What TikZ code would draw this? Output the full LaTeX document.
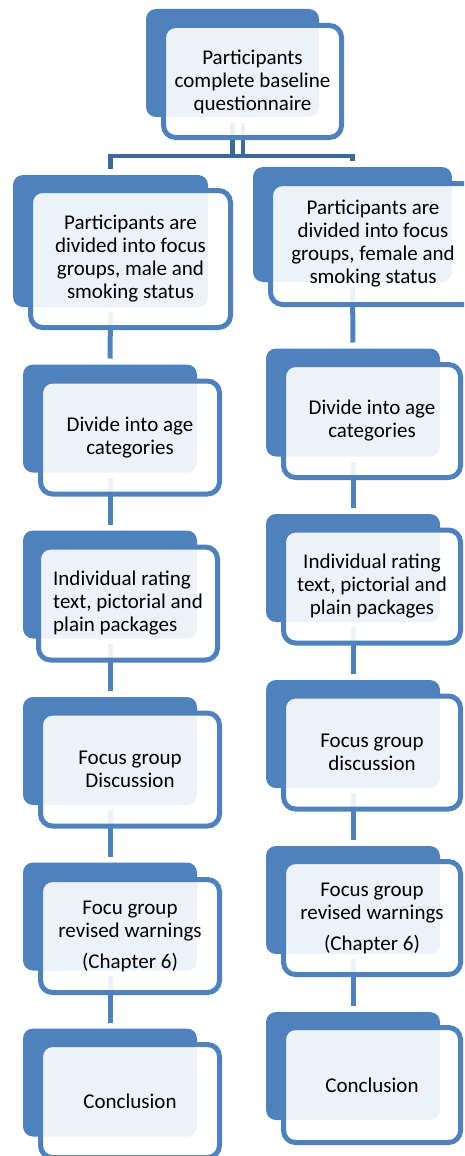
\documentclass[tikz,border=0pt]{standalone}
\usepackage{fontspec}
\setmainfont{Carlito}
\definecolor{boxblue}{HTML}{4F81BD}
\definecolor{trunkblue}{HTML}{3C6997}
\begin{document}
\begin{tikzpicture}[x=1pt,y=-1pt,
  backbox/.style={rectangle, rounded corners=10pt, fill=boxblue, draw=none,
    inner sep=0pt, outer sep=0pt, minimum width=174pt, minimum height=108pt},
  frontbox/.style={rectangle, rounded corners=12pt, draw=boxblue, line width=5pt,
    fill=white, fill opacity=0.9, text opacity=1, inner sep=0pt, outer sep=0pt,
    align=center, text=black, font=\fontsize{21}{23}\selectfont,
    minimum width=179pt, minimum height=113pt},
  link/.style={draw=boxblue, line width=5pt, shorten <=5pt, shorten >=6pt},
  trunk/.style={draw=trunkblue, line width=4.5pt, shorten <=6pt, shorten >=6pt}]

\useasboundingbox (0,0) rectangle (464,1156);
\clip (0,0) rectangle (464,1156);

% back plates
\node[backbox, minimum width=173pt] (tb) at (232.5,63) {};
\node[backbox, minimum width=195pt, minimum height=132pt] (l1b) at (110.5,241) {};
\node[backbox] (l2b) at (110,418.5) {};
\node[backbox] (l3b) at (110,584.5) {};
\node[backbox] (l4b) at (110,751) {};
\node[backbox] (l5b) at (110,916.5) {};
\node[backbox] (l6b) at (110,1082.5) {};
\node[backbox, minimum width=199pt, minimum height=115pt] (r1b) at (352.5,224.5) {};
\node[backbox] (r2b) at (353,402.5) {};
\node[backbox] (r3b) at (353,568) {};
\node[backbox] (r4b) at (353,734) {};
\node[backbox] (r5b) at (353,900) {};
\node[backbox] (r6b) at (353,1066) {};

% connectors
\coordinate (bar) at (0,156);
\draw[trunk] ([xshift=10.5pt]tb.south) -- ([xshift=10.5pt]tb.south |- bar) -| (l1b.north);
\draw[trunk] (tb.south) -- (tb.south |- bar) -| (r1b.north);
\draw[link] (l1b.south) -- (l2b.north);
\draw[link] (l2b.south) -- (l3b.north);
\draw[link] (l3b.south) -- (l4b.north);
\draw[link] (l4b.south) -- (l5b.north);
\draw[link] (l5b.south) -- (l6b.north);
\draw[link] (r1b.south) -- (r2b.north);
\draw[link] (r2b.south) -- (r3b.north);
\draw[link] (r3b.south) -- (r4b.north);
\draw[link] (r4b.south) -- (r5b.north);
\draw[link] (r5b.south) -- (r6b.north);

% front cards with the texts
\node[frontbox, minimum width=178pt, minimum height=112pt] (tf) at (252.5,81.5)
  {Participants\\complete baseline\\questionnaire};
\node[frontbox, minimum width=200pt, minimum height=137pt] (l1f) at (130.5,259)
  {Participants are\\divided into focus\\groups, male and\\smoking status};
\node[frontbox] (l2f) at (130,437.5) {Divide into age\\categories};
\node[frontbox, align=left] (l3f) at (128,603.5)
  {Individual rating\\text, pictorial and\\plain packages};
\node[frontbox] (l4f) at (130,769.5) {Focus group\\Discussion};
\node[frontbox] (l5f) at (130,936) {Focu group\\revised warnings\\[8pt](Chapter 6)};
\node[frontbox] (l6f) at (130,1101) {Conclusion};
\node[frontbox, minimum width=205pt, minimum height=121pt] (r1f) at (373,244)
  {Participants are\\divided into focus\\groups, female and\\smoking status};
\node[frontbox, minimum width=177pt] (r2f) at (372,421) {Divide into age\\categories};
\node[frontbox, minimum width=177pt] (r3f) at (372,586.5)
  {Individual rating\\text, pictorial and\\plain packages};
\node[frontbox, minimum width=177pt] (r4f) at (372,752.5) {Focus group\\discussion};
\node[frontbox, minimum width=177pt] (r5f) at (372,918)
  {Focus group\\revised warnings\\[8pt](Chapter 6)};
\node[frontbox, minimum width=177pt, minimum height=115pt] (r6f) at (372,1085) {Conclusion};
\end{tikzpicture}
\end{document}
